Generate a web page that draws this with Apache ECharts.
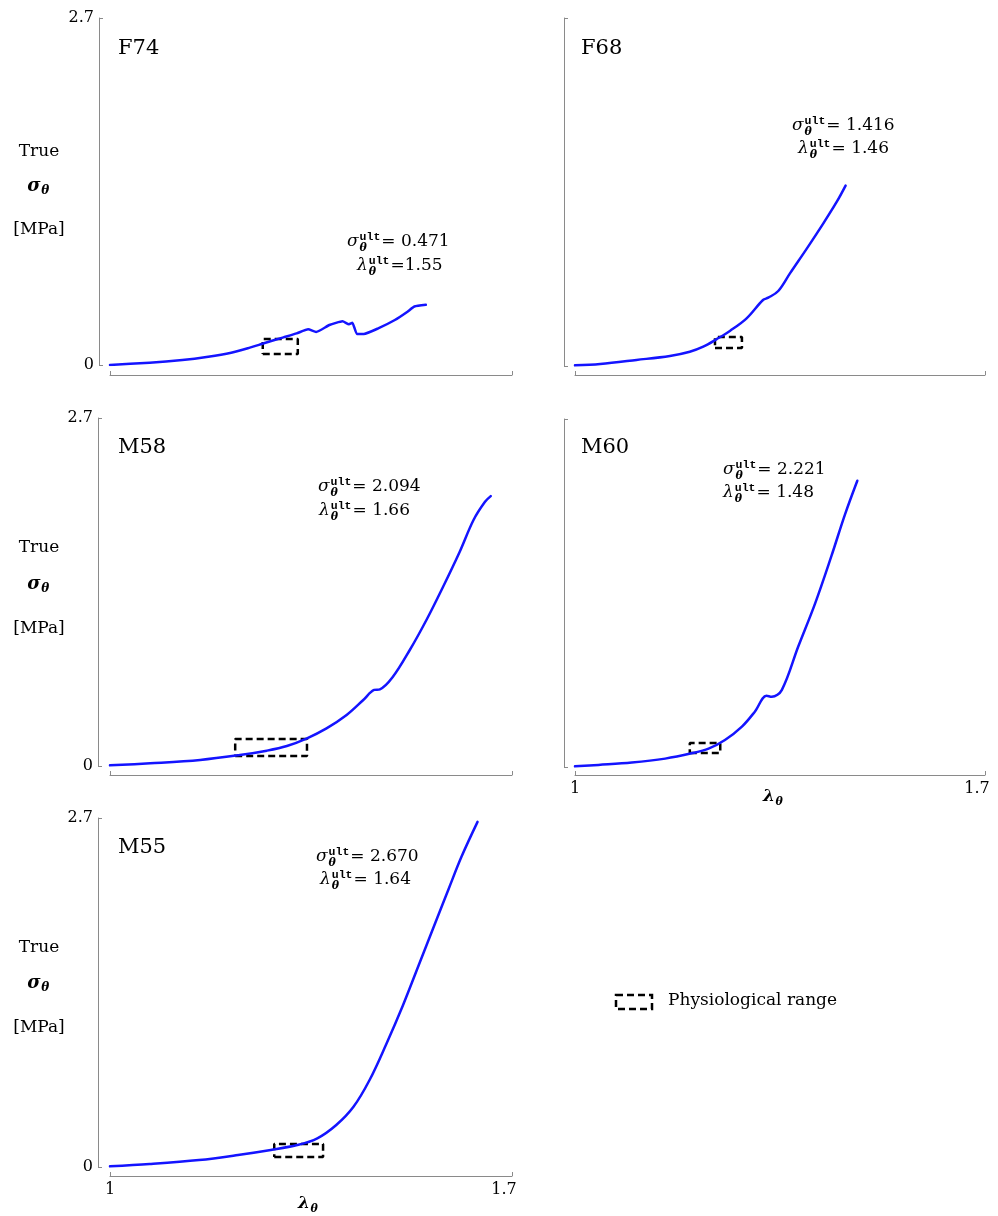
<!DOCTYPE html>
<html><head><meta charset="utf-8">
<script src="https://cdn.jsdelivr.net/npm/echarts@6/dist/echarts.min.js"></script>
<style>html,body{margin:0;padding:0;background:#fff}#c{width:998px;height:1216px}</style>
</head><body><div id="c"></div>
<script>
// ---------- data ----------
const panelNames = ['F74', 'F68', 'M58', 'M60', 'M55'];

const lambdaF74 = [1.0, 1.069, 1.126, 1.171, 1.211, 1.240, 1.268, 1.302, 1.325, 1.345, 1.359, 1.382, 1.405, 1.416, 1.422, 1.430, 1.442, 1.467, 1.496, 1.518, 1.530, 1.550];
const sigmaF74  = [0.0, 0.018, 0.039, 0.065, 0.096, 0.130, 0.169, 0.215, 0.246, 0.278, 0.257, 0.311, 0.340, 0.317, 0.329, 0.241, 0.241, 0.285, 0.350, 0.415, 0.455, 0.468];

const lambdaF68 = [1.0, 1.043, 1.105, 1.162, 1.196, 1.219, 1.242, 1.265, 1.293, 1.321, 1.330, 1.347, 1.367, 1.396, 1.424, 1.447, 1.462];
const sigmaF68  = [0.005, 0.016, 0.047, 0.078, 0.111, 0.150, 0.209, 0.274, 0.370, 0.512, 0.530, 0.582, 0.719, 0.913, 1.107, 1.275, 1.400];

const lambdaM58 = [1.0, 1.070, 1.157, 1.226, 1.273, 1.308, 1.343, 1.377, 1.412, 1.441, 1.460, 1.470, 1.492, 1.522, 1.551, 1.580, 1.609, 1.633, 1.653, 1.663];
const sigmaM58  = [0.005, 0.021, 0.047, 0.085, 0.119, 0.155, 0.215, 0.292, 0.396, 0.512, 0.590, 0.595, 0.688, 0.900, 1.133, 1.391, 1.663, 1.909, 2.050, 2.094];

const lambdaM60 = [1.0, 1.040, 1.097, 1.154, 1.199, 1.228, 1.256, 1.285, 1.307, 1.327, 1.336, 1.353, 1.381, 1.410, 1.438, 1.461, 1.482];
const sigmaM60  = [0.005, 0.016, 0.034, 0.065, 0.106, 0.142, 0.209, 0.313, 0.429, 0.553, 0.545, 0.597, 0.933, 1.270, 1.640, 1.960, 2.221];

const lambdaM55 = [1.0, 1.069, 1.155, 1.223, 1.280, 1.326, 1.361, 1.394, 1.424, 1.452, 1.481, 1.510, 1.537, 1.567, 1.590, 1.612, 1.640];
const sigmaM55  = [0.005, 0.023, 0.054, 0.093, 0.132, 0.170, 0.222, 0.325, 0.466, 0.673, 0.950, 1.250, 1.555, 1.895, 2.155, 2.400, 2.670];

const ultSigma  = ['0.471', '1.416', '2.094', '2.221', '2.670'];
const ultLambda = ['1.55', '1.46', '1.66', '1.48', '1.64'];

const physLambda = [[1.266, 1.327], [1.239, 1.285], [1.218, 1.343], [1.196, 1.248], [1.286, 1.371]];
const physSigma  = [[0.086, 0.202], [0.140, 0.225], [0.078, 0.209], [0.109, 0.186], [0.077, 0.178]];

const xTicks = [1, 1.7];
const yTicks = [0, 2.7];
const yTitleLines = ['True', 'σ', '[MPa]'];
const legendLabel = 'Physiological range';

const lambdas = [lambdaF74, lambdaF68, lambdaM58, lambdaM60, lambdaM55];
const sigmas  = [sigmaF74, sigmaF68, sigmaM58, sigmaM60, sigmaM55];

// ---------- layout ----------
const grids = [
  {left: 110, top: 18,  width: 402, height: 347, yOff: 11, xOff: 10},
  {left: 575, top: 18,  width: 410, height: 348, yOff: 11, xOff: 9},
  {left: 110, top: 418, width: 402, height: 348, yOff: 12, xOff: 9},
  {left: 575, top: 419, width: 410, height: 348, yOff: 11, xOff: 8},
  {left: 110, top: 818, width: 402, height: 349, yOff: 12, xOff: 9}
];
const smoothness = [0.15, 0.35, 0.35, 0.35, 0.35];
const showYLabels = [true, false, true, false, true];
const showXLabels = [false, false, false, true, true];
const titlePos = [[118, 49], [581, 49], [118, 448], [581, 448], [118, 848]];
const annPos = [[347, 242, 357, 266], [792, 126, 798, 149], [318, 487, 319, 511], [723, 470, 723, 493], [316, 857, 320, 880]];
const lambdaSep = ['=', '= ', '= ', '= ', '= '];
const yTitleY = [[152, 186, 230], null, [548, 584, 629], null, [948, 983, 1028]];
const xNamePos = [null, null, null, [763, 797], [298, 1204]];

const SERIF = '"DejaVu Serif"';
const MONO = '"Liberation Mono"';
const AX = '#8a8a8a';
const BLUE = '#1414ff';
const SUP = 11.5;

const cv = document.createElement('canvas').getContext('2d');
function measure(text, style, weight, size, family) {
  cv.font = style + ' ' + weight + ' ' + size + 'px ' + family;
  return cv.measureText(text).width;
}
function txt(x, y, text, o) {
  const align = o.align || 'left';
  return {type: 'text', x: x, y: y, silent: true, z: 10,
    style: {text: text, fill: '#000', fontFamily: o.family || SERIF, fontSize: o.size,
      fontStyle: o.style || 'normal', fontWeight: o.weight || 'normal',
      align: align, verticalAlign: 'middle', textAlign: align, textVerticalAlign: 'middle'}};
}
function ultLine(x0, yc, sym, rest) {
  const out = [];
  const wSym = measure(sym, 'italic', 'normal', 17, SERIF);
  out.push(txt(x0, yc, sym, {size: 17, style: 'italic'}));
  const xs = x0 + wSym + 1;
  out.push(txt(xs, yc - 5, 'ult', {size: SUP, weight: 'bold', family: MONO}));
  out.push(txt(xs, yc + 6, 'θ', {size: 11, style: 'italic', weight: 'bold'}));
  const wS = Math.max(measure('ult', 'normal', 'bold', SUP, MONO), measure('θ', 'italic', 'bold', 11, SERIF));
  out.push(txt(xs + wS + 1, yc, rest, {size: 17}));
  return out;
}
function symSub(xLeft, yc, sym, size, subSize) {
  const w = measure(sym, 'italic', 'bold', size, SERIF);
  return [
    txt(xLeft, yc, sym, {size: size, style: 'italic', weight: 'bold'}),
    txt(xLeft + w + 0.5, yc + 5, 'θ', {size: subSize, style: 'italic', weight: 'bold'})
  ];
}

const gridOpt = [], xAxes = [], yAxes = [], series = [];
let graphics = [];

grids.forEach((g, i) => {
  gridOpt.push({left: g.left, top: g.top, width: g.width, height: g.height, containLabel: false});
  xAxes.push({
    gridIndex: i, type: 'value', min: 1, max: 1.7, offset: g.xOff,
    axisLine: {show: true, onZero: false, lineStyle: {color: AX, width: 1}},
    axisTick: {show: true, inside: true, length: 4, customValues: xTicks, lineStyle: {color: AX, width: 1}},
    axisLabel: {show: showXLabels[i], customValues: xTicks, margin: 6, color: '#000',
      fontFamily: SERIF, fontSize: 16,
      formatter: v => (v > 1.5 ? '{r|' + String(v) + '}' : String(v)),
      rich: {r: {padding: [0, 16, 0, 0], fontFamily: SERIF, fontSize: 16, color: '#000'}}},
    splitLine: {show: false}
  });
  yAxes.push({
    gridIndex: i, type: 'value', min: 0, max: 2.7, offset: g.yOff,
    axisLine: {show: true, onZero: false, lineStyle: {color: AX, width: 1}},
    axisTick: {show: true, inside: true, length: 4, customValues: yTicks, lineStyle: {color: AX, width: 1}},
    axisLabel: {show: showYLabels[i], customValues: yTicks, margin: 5, color: '#000',
      fontFamily: SERIF, fontSize: 16},
    splitLine: {show: false}
  });
  const bx = physLambda[i], by = physSigma[i];
  series.push({
    type: 'line', name: legendLabel, xAxisIndex: i, yAxisIndex: i, symbol: 'none', z: 1,
    silent: true,
    lineStyle: {color: '#000', width: 2.5, type: [7, 4]},
    data: [[bx[0], by[0]], [bx[1], by[0]], [bx[1], by[1]], [bx[0], by[1]], [bx[0], by[0]]]
  });
  series.push({
    type: 'line', name: panelNames[i], xAxisIndex: i, yAxisIndex: i, symbol: 'none', z: 3,
    smooth: smoothness[i], silent: true,
    lineStyle: {color: BLUE, width: 2.5, join: 'round', cap: 'round'},
    data: lambdas[i].map((l, k) => [l, sigmas[i][k]])
  });

  graphics.push(txt(titlePos[i][0], titlePos[i][1], panelNames[i], {size: 21}));
  const a = annPos[i];
  graphics = graphics.concat(ultLine(a[0], a[1], 'σ', '= ' + ultSigma[i]));
  graphics = graphics.concat(ultLine(a[2], a[3], 'λ', lambdaSep[i] + ultLambda[i]));
  if (yTitleY[i]) {
    const yy = yTitleY[i];
    graphics.push(txt(39, yy[0], yTitleLines[0], {size: 17, align: 'center'}));
    const ws = measure(yTitleLines[1], 'italic', 'bold', 18, SERIF) + measure('θ', 'italic', 'bold', 12, SERIF);
    graphics = graphics.concat(symSub(38 - ws / 2, yy[1], yTitleLines[1], 18, 12));
    graphics.push(txt(39, yy[2], yTitleLines[2], {size: 17, align: 'center'}));
  }
  if (xNamePos[i]) {
    graphics = graphics.concat(symSub(xNamePos[i][0], xNamePos[i][1], 'λ', 17, 11));
  }
});

graphics.push({type: 'rect', silent: true, shape: {x: 616, y: 995, width: 36, height: 14},
  style: {fill: 'none', stroke: '#000', lineWidth: 2.5, lineDash: [7, 4]}});
graphics.push(txt(668, 1001, legendLabel, {size: 17}));

const chart = echarts.init(document.getElementById('c'), null, {renderer: 'canvas'});
chart.setOption({
  animation: false,
  backgroundColor: '#fff',
  grid: gridOpt,
  xAxis: xAxes,
  yAxis: yAxes,
  series: series,
  graphic: {elements: graphics}
});
</script>
</body></html>
